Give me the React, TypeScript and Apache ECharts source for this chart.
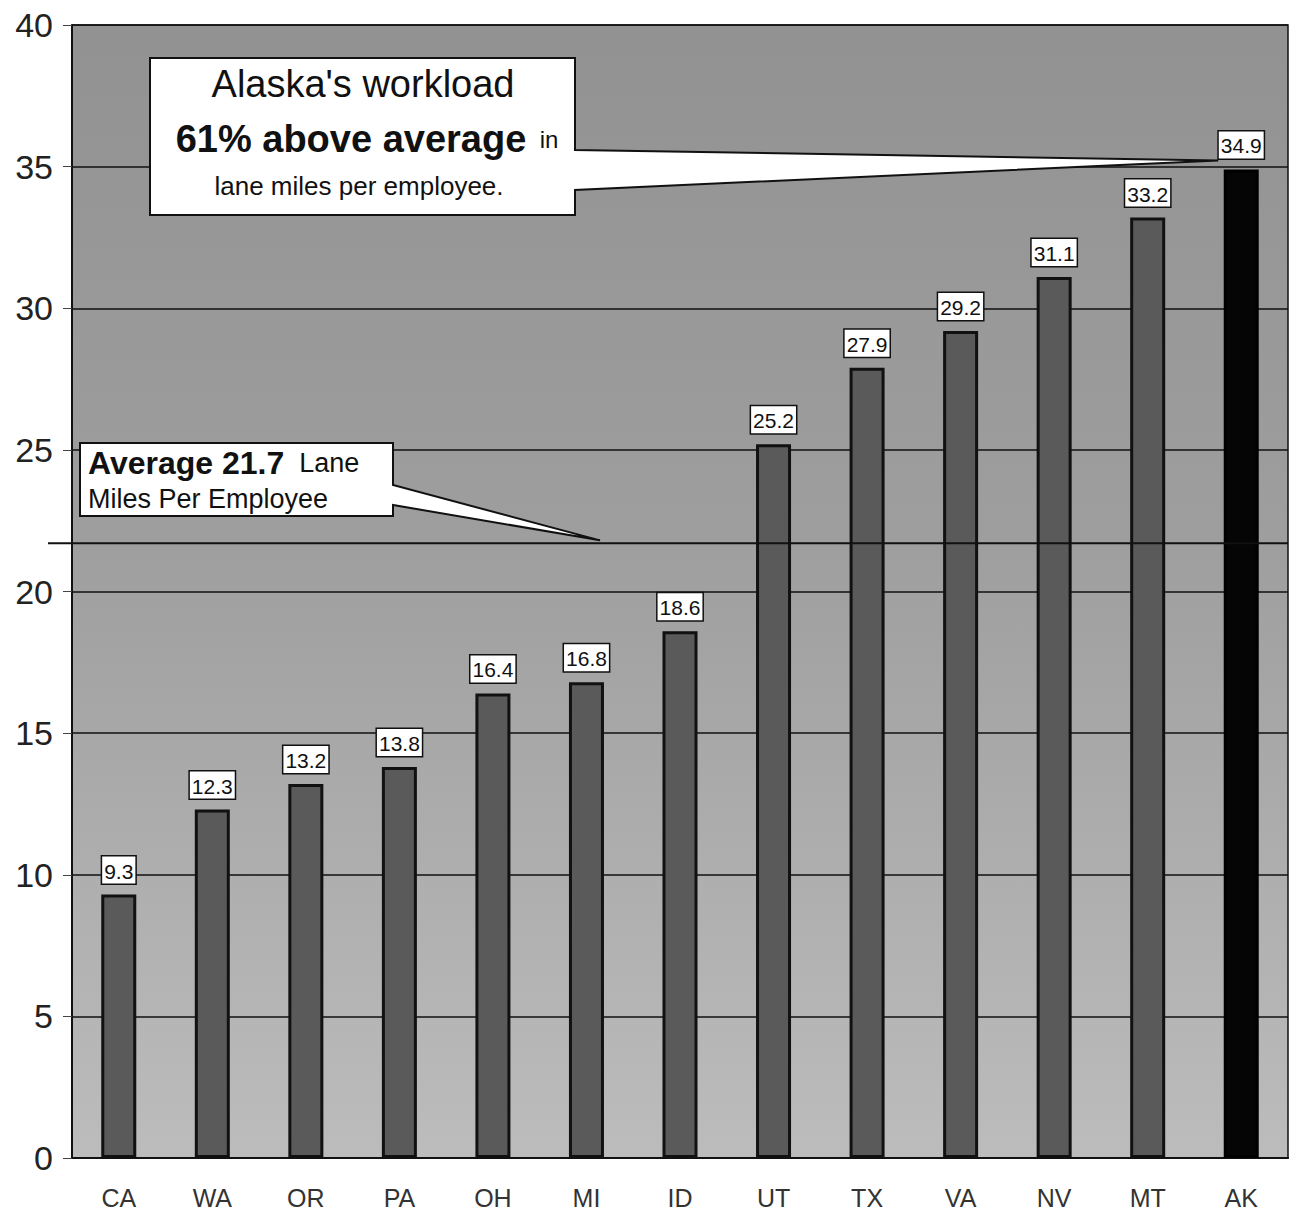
import React, { useEffect, useRef } from "react";
import * as echarts from "echarts";

// Lane miles per employee, by state department of transportation
const states = ["CA", "WA", "OR", "PA", "OH", "MI", "ID", "UT", "TX", "VA", "NV", "MT", "AK"];
const laneMilesPerEmployee = [9.3, 12.3, 13.2, 13.8, 16.4, 16.8, 18.6, 25.2, 27.9, 29.2, 31.1, 33.2, 34.9];
const averageLaneMiles = 21.7;
const alaskaAbovePct = 61;
const highlightState = "AK";

const yMin = 0;
const yMax = 40;
const yStep = 5;

const FONT = "'Liberation Sans', Arial, sans-serif";
const INK = "#111";

export default function App() {
  const ref = useRef<HTMLDivElement>(null);

  useEffect(() => {
    if (!ref.current) return;
    const chart = echarts.init(ref.current, null, { renderer: "svg" });

    const gridLeft = 72;
    const gridRight = 5;
    const gridTop = 25;
    const gridBottom = 60;

    chart.setOption({
      animation: false,
      backgroundColor: "#ffffff",
      grid: {
        left: gridLeft,
        right: gridRight,
        top: gridTop,
        bottom: gridBottom,
        show: true,
        borderColor: INK,
        borderWidth: 1.5,
        backgroundColor: new echarts.graphic.LinearGradient(0, 0, 0, 1, [
          { offset: 0, color: "#929292" },
          { offset: 0.45, color: "#9e9e9e" },
          { offset: 1, color: "#bcbcbc" },
        ]),
      },
      xAxis: {
        type: "category",
        data: states,
        axisLine: { show: true, lineStyle: { color: INK, width: 2 } },
        axisTick: { show: false },
        axisLabel: { fontSize: 25, color: "#333", fontFamily: FONT, margin: 27 },
        splitLine: { show: false },
      },
      yAxis: {
        type: "value",
        min: yMin,
        max: yMax,
        interval: yStep,
        axisLine: { show: true, lineStyle: { color: INK, width: 2 } },
        axisTick: { show: true, length: 9, lineStyle: { color: "#444", width: 1 } },
        axisLabel: { fontSize: 34, color: "#222", fontFamily: FONT, margin: 19 },
        splitLine: { show: true, lineStyle: { color: INK, width: 1.5 } },
      },
      series: [
        {
          type: "bar",
          barWidth: 35,
          data: laneMilesPerEmployee.map((v, i) =>
            states[i] === highlightState
              ? { value: v, itemStyle: { color: "#050505", borderColor: "#000" } }
              : v
          ),
          itemStyle: { color: "#5a5a5a", borderColor: INK, borderWidth: 3 },
          label: {
            show: true,
            position: "top",
            distance: 11,
            formatter: (p: any) => String(p.value),
            fontFamily: FONT,
            fontSize: 21,
            color: INK,
            backgroundColor: "#ffffff",
            borderColor: INK,
            borderWidth: 1.5,
            padding: [4, 2, 2, 2],
          },
          z: 2,
        },
      ],
    });

    // Annotation layer: positions derived from the chart's own scales
    const akTop = chart.convertToPixel({ xAxisIndex: 0, yAxisIndex: 0 }, [
      highlightState,
      laneMilesPerEmployee[states.indexOf(highlightState)],
    ]) as number[];
    const avgY = chart.convertToPixel({ yAxisIndex: 0 }, averageLaneMiles) as number;
    const plotRight = 1293 - gridRight;

    const akTip = [akTop[0] - 23, akTop[1] - 9];
    const avgTip = [600, avgY - 3];

    const boxStyle = { fill: "#ffffff", stroke: INK, lineWidth: 2 };

    chart.setOption({
      graphic: [
        // average line, running past the axis on the left
        {
          type: "line",
          z: 50,
          shape: { x1: 48, y1: avgY, x2: plotRight, y2: avgY },
          style: { stroke: INK, lineWidth: 2 },
        },
        // Alaska callout
        {
          type: "polygon",
          z: 60,
          shape: {
            points: [
              [150, 58],
              [575, 58],
              [575, 150],
              akTip,
              [575, 190],
              [575, 215],
              [150, 215],
            ],
          },
          style: boxStyle,
        },
        {
          type: "text",
          z: 61,
          x: 363,
          y: 84,
          style: {
            text: "Alaska's workload",
            font: `38px ${FONT}`,
            fill: INK,
            align: "center",
            verticalAlign: "middle",
          },
        },
        {
          type: "text",
          z: 61,
          x: 367,
          y: 139,
          style: {
            text: `{b|${alaskaAbovePct}% above average}{s|  in}`,
            align: "center",
            verticalAlign: "middle",
            fill: INK,
            rich: {
              b: { fontFamily: FONT, fontSize: 38, fontWeight: "bold", fill: INK },
              s: { fontFamily: FONT, fontSize: 24, fill: INK },
            },
          },
        },
        {
          type: "text",
          z: 61,
          x: 359,
          y: 186,
          style: {
            text: "lane miles per employee.",
            font: `26px ${FONT}`,
            fill: INK,
            align: "center",
            verticalAlign: "middle",
          },
        },
        // Average callout
        {
          type: "polygon",
          z: 60,
          shape: {
            points: [
              [80, 443],
              [393, 443],
              [393, 485],
              avgTip,
              [393, 505],
              [393, 516],
              [80, 516],
            ],
          },
          style: boxStyle,
        },
        {
          type: "text",
          z: 61,
          x: 88,
          y: 463,
          style: {
            text: `{b|Average ${averageLaneMiles}}{r|  Lane}`,
            align: "left",
            verticalAlign: "middle",
            fill: INK,
            rich: {
              b: { fontFamily: FONT, fontSize: 32, fontWeight: "bold", fill: INK },
              r: { fontFamily: FONT, fontSize: 27, fill: INK },
            },
          },
        },
        {
          type: "text",
          z: 61,
          x: 88,
          y: 499,
          style: {
            text: "Miles Per Employee",
            font: `27px ${FONT}`,
            fill: INK,
            align: "left",
            verticalAlign: "middle",
          },
        },
      ],
    });

    return () => chart.dispose();
  }, []);

  return (
    <div
      ref={ref}
      style={{ position: "absolute", left: 0, top: 0, width: 1293, height: 1218 }}
    />
  );
}
